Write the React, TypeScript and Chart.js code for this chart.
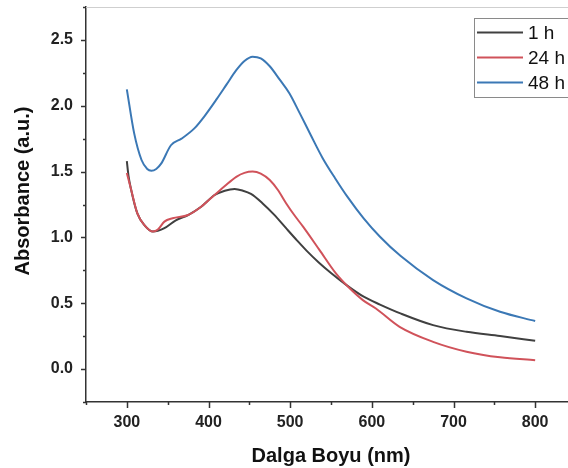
import React, { useEffect, useRef } from "react";
import { Chart, registerables } from "chart.js";

Chart.register(...registerables);

// ---- data ----
const seriesLabels = ["1 h", "24 h", "48 h"];
const seriesColors = ["#404040", "#d0525a", "#3b78b5"];

const wl1h = [300, 302, 305, 313, 322, 332, 338, 346, 360, 375, 391, 407, 420, 432, 442, 452, 466, 480, 495, 508, 520, 535, 550, 569, 590, 610, 635, 675, 716, 757, 800];
const abs1h = [1.58, 1.47, 1.37, 1.18, 1.09, 1.045, 1.05, 1.07, 1.13, 1.17, 1.233, 1.32, 1.355, 1.368, 1.355, 1.33, 1.26, 1.175, 1.07, 0.98, 0.9, 0.81, 0.73, 0.638, 0.55, 0.49, 0.423, 0.334, 0.283, 0.251, 0.215];

const wl24h = [300, 305, 313, 322, 332, 338, 346, 356, 375, 391, 407, 420, 434, 444, 454, 464, 475, 485, 495, 505, 516, 536, 556, 571, 589, 605, 634, 675, 716, 757, 800];
const abs24h = [1.49, 1.37, 1.18, 1.09, 1.045, 1.06, 1.12, 1.145, 1.17, 1.233, 1.32, 1.39, 1.46, 1.49, 1.5, 1.485, 1.436, 1.36, 1.26, 1.17, 1.08, 0.904, 0.727, 0.625, 0.524, 0.46, 0.321, 0.207, 0.132, 0.089, 0.068];

const wl48h = [300, 309, 318, 325, 330, 336, 342, 354, 367, 383, 395, 410, 422, 434, 444, 454, 464, 475, 487, 499, 512, 525, 540, 555, 570, 590, 610, 635, 675, 716, 757, 800];
const abs48h = [2.125, 1.79, 1.588, 1.52, 1.507, 1.52, 1.56, 1.7, 1.75, 1.83, 1.92, 2.05, 2.16, 2.27, 2.34, 2.373, 2.36, 2.3, 2.2, 2.095, 1.94, 1.78, 1.6, 1.45, 1.31, 1.145, 1.005, 0.86, 0.676, 0.537, 0.435, 0.365];

const xTickLabels = [300, 400, 500, 600, 700, 800];
const yTickLabels = [0.0, 0.5, 1.0, 1.5, 2.0, 2.5];
const xTitle = "Dalga Boyu (nm)";
const yTitle = "Absorbance (a.u.)";

const FONT = "'Liberation Sans', Arial, Helvetica, sans-serif";

export default function App() {
  const ref = useRef<HTMLCanvasElement>(null);

  useEffect(() => {
    document.body.style.overflow = "hidden";
    const canvas = ref.current;
    if (!canvas) return;
    const toPts = (xs: number[], ys: number[]) => xs.map((x, i) => ({ x, y: ys[i] }));
    const series = [
      toPts(wl1h, abs1h),
      toPts(wl24h, abs24h),
      toPts(wl48h, abs48h),
    ];

    const decor = {
      id: "decor",
      afterDraw(chart: any) {
        const ctx = chart.ctx as CanvasRenderingContext2D;
        const { left, top, bottom } = chart.chartArea;
        const xs = chart.scales.x;
        const ys = chart.scales.y;
        ctx.save();
        // top frame
        ctx.strokeStyle = "#cfcfcf";
        ctx.lineWidth = 1;
        ctx.beginPath();
        ctx.moveTo(left, Math.round(top) + 0.5);
        ctx.lineTo(chart.width, Math.round(top) + 0.5);
        ctx.stroke();
        // tick marks
        ctx.strokeStyle = "#333";
        ctx.lineWidth = 1.5;
        ys.ticks.forEach((t: any) => {
          const p = Math.round(ys.getPixelForValue(t.value)) + 0.5;
          const major = yTickLabels.some((v) => Math.abs(v - t.value) < 1e-6);
          ctx.beginPath();
          ctx.moveTo(left, p);
          ctx.lineTo(left - (major ? 5 : 3), p);
          ctx.stroke();
        });
        xs.ticks.forEach((t: any) => {
          const p = Math.round(xs.getPixelForValue(t.value)) + 0.5;
          const major = xTickLabels.includes(t.value);
          ctx.beginPath();
          ctx.moveTo(p, bottom);
          ctx.lineTo(p, bottom + (major ? 6 : 3));
          ctx.stroke();
        });
        // y title
        ctx.fillStyle = "#111";
        ctx.font = `bold 20px ${FONT}`;
        ctx.textAlign = "center";
        ctx.textBaseline = "middle";
        ctx.translate(23, 191);
        ctx.rotate(-Math.PI / 2);
        ctx.fillText(yTitle, 0, 0);
        ctx.restore();

        // legend
        ctx.save();
        const bx = 474.5, by = 18.5, bw = 120, bh = 79;
        ctx.strokeStyle = "#8a8a8a";
        ctx.lineWidth = 1;
        ctx.fillStyle = "#fff";
        ctx.fillRect(bx, by, bw, bh);
        ctx.strokeRect(bx, by, bw, bh);
        ctx.font = `19px ${FONT}`;
        ctx.textAlign = "left";
        ctx.textBaseline = "middle";
        chart.data.datasets.forEach((ds: any, i: number) => {
          const y = 32.5 + i * 25;
          ctx.strokeStyle = ds.borderColor;
          ctx.lineWidth = 2;
          ctx.beginPath();
          ctx.moveTo(477, y);
          ctx.lineTo(523, y);
          ctx.stroke();
          ctx.fillStyle = "#111";
          ctx.fillText(ds.label, 528, y + 1);
        });
        ctx.restore();
      },
    };

    const chart = new Chart(canvas, {
      type: "line",
      data: {
        datasets: series.map((d, i) => ({
          label: seriesLabels[i],
          data: d,
          borderColor: seriesColors[i],
          backgroundColor: seriesColors[i],
          borderWidth: 2,
          pointRadius: 0,
          fill: false,
          cubicInterpolationMode: "monotone" as const,
          order: [2, 1, 0][i],
        })),
      },
      options: {
        animation: false,
        responsive: false,
        devicePixelRatio: 1,
        layout: { padding: { top: 7, right: 24, left: 0, bottom: 0 } },
        plugins: {
          legend: { display: false },
          tooltip: { enabled: false },
        },
        scales: {
          x: {
            type: "linear",
            min: 250,
            max: 850,
            grid: { display: false, drawTicks: false },
            border: { display: true, color: "#333", width: 1.5 },
            ticks: {
              stepSize: 50,
              autoSkip: false,
              maxRotation: 0,
              padding: 11,
              color: "#222",
              font: { family: FONT, size: 16, weight: "bold" },
              callback: (v: any) => (xTickLabels.includes(Number(v)) ? String(v) : ""),
            },
            title: {
              display: true,
              text: xTitle,
              color: "#111",
              font: { family: FONT, size: 20, weight: "bold" },
              padding: { top: 0, bottom: 0 },
            },
            afterFit: (s: any) => {
              s.height = 66;
              s.paddingLeft = 0;
              s.paddingRight = 0;
            },
          },
          y: {
            type: "linear",
            min: -0.25,
            max: 2.75,
            grid: { display: false, drawTicks: false },
            border: { display: true, color: "#333", width: 1.5 },
            ticks: {
              stepSize: 0.25,
              autoSkip: false,
              padding: 13,
              color: "#222",
              font: { family: FONT, size: 16, weight: "bold" },
              callback: (v: any) =>
                yTickLabels.some((t) => Math.abs(t - Number(v)) < 1e-6) ? Number(v).toFixed(1) : "",
            },
            afterFit: (s: any) => {
              s.width = 86;
              s.paddingTop = 0;
              s.paddingBottom = 0;
            },
          },
        },
      },
      plugins: [decor],
    });
    return () => chart.destroy();
  }, []);

  return (
    <div style={{ position: "fixed", left: 0, top: 0, width: 600, height: 468, background: "#fff" }}>
      <canvas ref={ref} width={600} height={468} style={{ display: "block" }} />
    </div>
  );
}
